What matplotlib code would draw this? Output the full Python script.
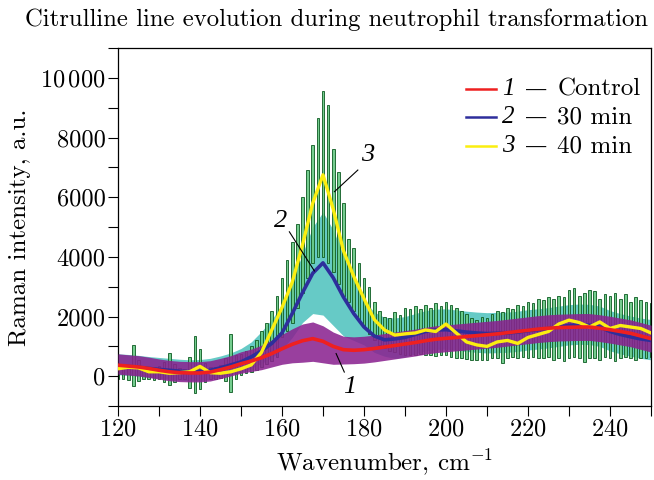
import numpy as np
import matplotlib
matplotlib.use("Agg")
import matplotlib.pyplot as plt
from matplotlib.ticker import MultipleLocator, FixedLocator, FixedFormatter

plt.rcParams['font.family'] = ['cmr10', 'DejaVu Serif']
plt.rcParams['mathtext.fontset'] = 'cm'
plt.rcParams['axes.formatter.use_mathtext'] = True
plt.rcParams['axes.unicode_minus'] = False

# mean curves on a 2.5 cm^-1 grid
wavenumber = np.arange(120, 250.1, 2.5)

control = [370, 340, 310, 260, 200, 150, 120, 110, 110, 140, 220, 310,
           420, 510, 620, 760, 920, 1070, 1190, 1260, 1170, 1000, 890, 870,
           890, 930, 980, 1030, 1080, 1130, 1190, 1240, 1270, 1300, 1330, 1360,
           1390, 1420, 1460, 1500, 1540, 1580, 1610, 1630, 1640, 1650, 1650, 1610,
           1560, 1500, 1440, 1350, 1260]
control_up = [380] * 12 + [400, 400, 420, 450, 480, 520, 560, 560, 520, 480, 450] + [450] * 30
control_dn = [300] * 12 + [320, 350, 400, 450, 520, 620, 720, 760, 720, 600, 480] + [450] * 30

min30 = [350, 330, 300, 260, 230, 200, 170, 150, 160, 200, 280, 380,
         480, 650, 850, 1100, 1450, 2100, 2800, 3450, 3800, 3300, 2650, 2100,
         1650, 1350, 1220, 1250, 1300, 1400, 1500, 1550, 1560, 1520, 1480, 1450,
         1430, 1440, 1450, 1480, 1530, 1560, 1600, 1650, 1700, 1720, 1710, 1650,
         1500, 1400, 1320, 1250, 1200]
min30_up = [400] * 12 + [450, 500, 650, 800, 950, 1100, 1300, 1550, 1700, 1600,
                         1400, 1100, 900, 800, 750] + [700] * 26
min30_dn = [300] * 12 + [350, 380, 420, 480, 550, 800, 1000, 1350, 1750, 1600,
                         1300, 900, 600, 550, 550] + [650] * 26

min40 = [250, 300, 280, 150, 150, 100, 120, 150, 330, 120, 100, 150,
         250, 380, 800, 1550, 2300, 3150, 4400, 5800, 6750, 5600, 4200, 3350,
         2600, 1900, 1550, 1380, 1420, 1450, 1550, 1500, 1750, 1450, 1150, 1050,
         1000, 1150, 1200, 1100, 1300, 1400, 1500, 1750, 1880, 1800, 1650, 1820,
         1600, 1700, 1650, 1600, 1450]

# error bars of the 40 min spectrum on a 1.25 cm^-1 grid
bar_x = np.arange(120, 250.1, 1.25)
bar_top = [450, 400, 380, 1050, 550, 350, 300, 280, 350, 480,
           780, 420, 280, 250, 650, 1350, 900, 450, 300, 300,
           380, 600, 1400, 700, 750, 850, 1000, 1200, 1500, 1800,
           2200, 2700, 3300, 3900, 4500, 5100, 6000, 6900, 7750, 8650,
           9550, 9100, 7600, 6850, 5800, 4600, 4300, 3800, 3300, 3000,
           2500, 2200, 2000, 1950, 2150, 2050, 2300, 2250, 2350, 2250,
           2400, 2300, 2450, 2350, 2500, 2400, 2300, 2200, 2100, 1950,
           1900, 2000, 1950, 2100, 2200, 2150, 2300, 2250, 2400, 2350,
           2500, 2450, 2600, 2550, 2650, 2600, 2700, 2650, 2900, 2950,
           2700, 2800, 2900, 2850, 2600, 2750, 2700, 2800, 2600, 2750,
           2500, 2650, 2550, 2500, 2450]
bar_bottom = [-100, -80, -120, -330, -150, -100, -80, -120, -100, -180,
              -300, -180, -100, -100, -400, -550, -430, -200, -100, -80,
              -60, -150, -520, -100, 50, 100, 150, 200, 300, 400,
              500, 650, 1300, 1500, 1800, 2300, 2800, 3300, 3800, 4000,
              4000, 3800, 3500, 3100, 2700, 2500, 2200, 1900, 1650, 1400,
              1200, 1050, 950, 850, 800, 750, 700, 720, 700, 750,
              700, 720, 680, 700, 720, 650, 600, 620, 580, 560,
              540, 560, 550, 600, 620, 450, 600, 650, 620, 650,
              600, 640, 620, 600, 650, 550, 620, 500, 600, 650,
              600, 480, 620, 600, 550, 650, 600, 520, 620, 650,
              600, 550, 620, 600, 650]

numbers = ["1", "2", "3"]
labels = ["Control", "30 min", "40 min"]
colors = ['#ee2020', '#2e2e9c', '#fbee10']

fig = plt.figure(figsize=(6.54, 4.8), dpi=100)
ax = fig.add_axes([0.1804, 0.154, 0.8150, 0.746])

ctl = np.array(control)
m30 = np.array(min30)
ax.fill_between(wavenumber, m30 - np.array(min30_dn), m30 + np.array(min30_up),
                color='#66cac6', lw=0, zorder=1)
top = np.array(bar_top)
bot = np.array(bar_bottom)
ax.bar(bar_x, top - bot, bottom=bot, width=0.65, color='#66c883',
       edgecolor='#125f26', linewidth=0.7, alpha=0.9, zorder=2)
ax.fill_between(wavenumber, ctl - np.array(control_dn), ctl + np.array(control_up),
                color='#8a2290', lw=0, alpha=0.87, zorder=3)

ax.plot(wavenumber, min30, color=colors[1], lw=2.6, zorder=4)
ax.plot(wavenumber, min40, color=colors[2], lw=2.4, zorder=5)
ax.plot(wavenumber, control, color=colors[0], lw=2.6, zorder=6)

# curve labels with leader lines
italic = dict(family='Liberation Serif', style='italic')
label_pos = [(176.6, -350), (159.6, 5200), (180.8, 7400)]
leader_from = [(173.2, 760), (161.8, 4840), (178.5, 6910)]
leader_to = [(175.2, 140), (167.9, 3530), (172.8, 6185)]
for t, p, a, b in zip(numbers, label_pos, leader_from, leader_to):
    ax.plot([a[0], b[0]], [a[1], b[1]], color='black', lw=0.8, zorder=7)
    ax.text(p[0], p[1], t, fontsize=19, ha='center', va='center', zorder=7, **italic)

ax.set_xlim(120, 250)
ax.set_ylim(-1000, 11000)
ax.xaxis.set_major_locator(MultipleLocator(20))
ax.xaxis.set_minor_locator(MultipleLocator(10))
ax.yaxis.set_major_locator(FixedLocator([0, 2000, 4000, 6000, 8000, 10000]))
ax.yaxis.set_major_formatter(FixedFormatter(['0', '2000', '4000', '6000', '8000',
                                             r'$10\,000$']))
ax.yaxis.set_minor_locator(MultipleLocator(1000))
ax.tick_params(which='both', direction='out', length=7, width=0.8, labelsize=17.5,
               top=False, right=False, pad=2)
for s in ax.spines.values():
    s.set_linewidth(0.9)

ax.set_xlabel(r"Wavenumber, cm$^{-1}$", fontsize=18)
ax.set_ylabel("Raman intensity, a.u.", fontsize=18)
ax.xaxis.set_label_coords(0.5, -0.118)
ax.yaxis.set_label_coords(-0.163, 0.5)
fig.text(0.514, 0.958, "Citrulline line evolution during neutrophil transformation",
         fontsize=17.8, ha='center', va='center')

# legend drawn row by row: line, italic number, dash, label
row_y = [0.885, 0.807, 0.726]
for n, l, c, y in zip(numbers, labels, colors, row_y):
    ax.plot([0.653, 0.709], [y, y], color=c, lw=1.8, transform=ax.transAxes, zorder=8)
    ax.text(0.733, y, n, fontsize=18, ha='center', va='center',
            transform=ax.transAxes, **italic)
    ax.text(0.785, y - 0.004, "\u2014", fontsize=16, ha='center', va='center',
            family='DejaVu Serif', transform=ax.transAxes)
    ax.text(0.824, y, l, fontsize=18, ha='left', va='center', transform=ax.transAxes)

fig.savefig("out.png", dpi=100)
